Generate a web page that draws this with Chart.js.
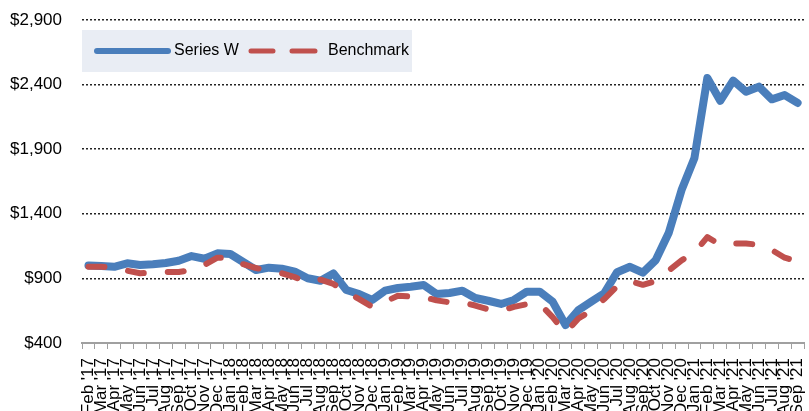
<!DOCTYPE html>
<html>
<head>
<meta charset="utf-8">
<script src="https://cdn.jsdelivr.net/npm/chart.js@4.4.1/dist/chart.umd.min.js"></script>
<style>
  html, body { margin: 0; padding: 0; overflow: hidden; background: #fff; }
  canvas { display: block; }
</style>
</head>
<body>
<canvas id="chart" width="827" height="411"></canvas>
<script>
"use strict";

// categories (monthly)
const months = [
  "Feb '17", "Mar '17", "Apr '17", "May '17", "Jun '17", "Jul '17", "Aug '17", "Sep '17", "Oct '17", "Nov '17", "Dec '17",
  "Jan '18", "Feb '18", "Mar '18", "Apr '18", "May '18", "Jun '18", "Jul '18", "Aug '18", "Sep '18", "Oct '18", "Nov '18", "Dec '18",
  "Jan '19", "Feb '19", "Mar '19", "Apr '19", "May '19", "Jun '19", "Jul '19", "Aug '19", "Sep '19", "Oct '19", "Nov '19", "Dec '19",
  "Jan '20", "Feb '20", "Mar '20", "Apr '20", "May '20", "Jun '20", "Jul '20", "Aug '20", "Sep '20", "Oct '20", "Nov '20", "Dec '20",
  "Jan '21", "Feb '21", "Mar '21", "Apr '21", "May '21", "Jun '21", "Jul '21", "Aug '21", "Sep '21"
];

// series values
const seriesW = [
  1000, 996, 990, 1017, 1004, 1009, 1019, 1037, 1073, 1052, 1094,
  1089, 1027, 965, 983, 975, 952, 901, 882, 939, 810, 779, 733,
  805, 826, 836, 849, 779, 787, 805, 748, 727, 702, 733, 797,
  797, 720, 539, 655, 720, 785, 948, 990, 944, 1042, 1251, 1584,
  1832, 2451, 2275, 2431, 2345, 2384, 2286, 2319, 2258
];
const benchmark = [
  990, 990, 985, 960, 940, 945, 950, 950, 965, 1005, 1060,
  1060, 1010, 980, 960, 940, 910, 870, 890, 857, 795, 740, 680,
  720, 765, 760, 755, 730, 715, 715, 690, 660, 650, 680, 700,
  705, 600, 480, 590, 650, 740, 840, 880, 850, 880, 960, 1040,
  1100, 1220, 1160, 1170, 1170, 1160, 1120, 1060, 1030
];

// y axis ticks
const yTicks = [400, 900, 1400, 1900, 2400, 2900];

const seriesNames = ["Series W", "Benchmark"];
const blue = "#4a7ebb";
const red = "#c0504d";
const fontFamily = '"Liberation Sans", Arial, sans-serif';

// legend drawn in a shaded box inside the plot
const legendBox = {
  id: "legendBox",
  afterDatasetsDraw: function (chart) {
    const ctx = chart.ctx;
    const left = chart.chartArea.left;
    ctx.save();
    ctx.fillStyle = "#e9edf4";
    ctx.fillRect(left, 30, 330, 42);

    const cy = 51;
    ctx.lineCap = "round";
    ctx.strokeStyle = blue;
    ctx.lineWidth = 6;
    ctx.beginPath();
    ctx.moveTo(left + 15, cy);
    ctx.lineTo(left + 86, cy);
    ctx.stroke();

    ctx.strokeStyle = red;
    ctx.lineWidth = 5;
    ctx.beginPath();
    ctx.moveTo(left + 169, cy);
    ctx.lineTo(left + 191, cy);
    ctx.moveTo(left + 210, cy);
    ctx.lineTo(left + 233, cy);
    ctx.stroke();

    ctx.fillStyle = "#000";
    ctx.font = "16px " + fontFamily;
    ctx.textBaseline = "middle";
    ctx.textAlign = "left";
    ctx.fillText(seriesNames[0], left + 92, cy);
    ctx.fillText(seriesNames[1], left + 246, cy);
    ctx.restore();
  }
};

const ctx = document.getElementById("chart");
const chart = new Chart(ctx, {
  type: "line",
  data: {
    labels: months,
    datasets: [{
      label: seriesNames[0],
      data: seriesW,
      borderColor: blue,
      borderWidth: 8,
      borderJoinStyle: "round",
      borderCapStyle: "round",
      order: 2
    }, {
      label: seriesNames[1],
      data: benchmark,
      borderColor: red,
      borderWidth: 6,
      borderDash: [16, 24],
      borderJoinStyle: "round",
      borderCapStyle: "round",
      order: 1
    }]
  },
  options: {
    responsive: false,
    animation: false,
    layout: { padding: { top: 20, right: 0, bottom: 0, left: 0 } },
    elements: { point: { radius: 0 }, line: { tension: 0 } },
    plugins: { legend: { display: false }, tooltip: { enabled: false } },
    scales: {
      x: {
        offset: true,
        grid: { offset: true, drawOnChartArea: false, drawTicks: true, tickLength: 6, color: "#a0a0a0", lineWidth: 1 },
        border: { display: true, color: "#a0a0a0", width: 2 },
        ticks: {
          autoSkip: false, minRotation: 90, maxRotation: 90, padding: 9,
          color: "#000", font: { family: fontFamily, size: 17 }
        },
        afterFit: function (scale) { scale.height = 68; }
      },
      y: {
        min: yTicks[0],
        max: yTicks[yTicks.length - 1],
        afterBuildTicks: function (scale) {
          scale.ticks = yTicks.map(function (v) { return { value: v }; });
        },
        ticks: {
          padding: 0, color: "#000", font: { family: fontFamily, size: 17 },
          callback: function (v) { return "$" + Number(v).toLocaleString("en-US"); }
        },
        // invisible tick marks keep the labels 20px off the plot
        grid: { color: "#222", lineWidth: 1.5, drawTicks: true, tickLength: 20, tickColor: "rgba(0,0,0,0)" },
        border: { display: false, dash: [2, 2] },
        afterFit: function (scale) { scale.width = 82; }
      }
    }
  },
  plugins: [legendBox]
});
</script>
</body>
</html>
